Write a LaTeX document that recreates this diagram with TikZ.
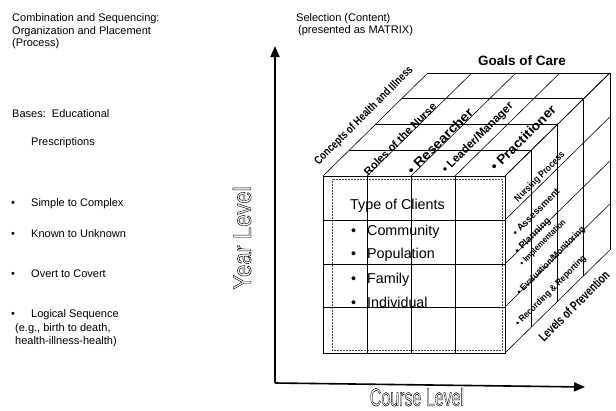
\documentclass[tikz,border=0pt]{standalone}
\usepackage{fontspec}
\setmainfont{Liberation Sans}
\usepackage{graphicx}
\usetikzlibrary{arrows.meta}
\newcommand{\sx}[2]{\scalebox{#1}[1]{#2}}
\newcommand{\fs}[1]{\fontsize{#1}{#1}\selectfont}
\newcommand{\outl}[1]{\special{pdf:literal direct 1 Tr 0.5 w}#1\special{pdf:literal direct 0 Tr}}
\begin{document}
\begin{tikzpicture}[x=1pt,y=-1pt,
  txt/.style={inner sep=0pt, anchor=base west, font=\fs{11}},
  cube/.style={line width=0.6pt},
  lab/.style={inner sep=0pt, rotate=45, anchor=center},
  axis/.style={line width=1.6pt, -{Triangle[length=11pt,width=9pt]}},
  bigl/.style={inner sep=0pt, font=\fs{25}}]
\useasboundingbox (0,0) rectangle (616,410);
% left texts
\node[txt] (t1) at (12,21) {Combination and Sequencing:};
\node[txt] (t2) at (12,34) {Organization and Placement};
\node[txt] (t3) at (12,46.5) {(Process)};
\node[txt] (b0) at (12,117) {Bases:\ \ Educational};
\node[txt] (b1) at (31,145) {Prescriptions};
\node[txt] (u1) at (11,206) {\textbullet};
\node[txt] (s1) at (31,206) {Simple to Complex};
\node[txt] (u2) at (11,237) {\textbullet};
\node[txt] (s2) at (31,237) {Known to Unknown};
\node[txt] (u3) at (11,277) {\textbullet};
\node[txt] (s3) at (31,277) {Overt to Covert};
\node[txt] (u4) at (11,317) {\textbullet};
\node[txt] (s4) at (31,317) {Logical Sequence};
\node[txt] (s5) at (15,331) {(e.g., birth to death,};
\node[txt] (s6) at (15,344.5) {health-illness-health)};
% selection
\node[txt] (sel1) at (296,21) {Selection (Content)};
\node[txt] (sel2) at (298,33.5) {(presented as MATRIX)};
\node[inner sep=0pt, anchor=base, font=\fs{13.5}\bfseries] (goals) at (522,65) {Goals of Care};
% axes
\coordinate (O) at (275,383);
\coordinate (Ytip) at (275,46);
\coordinate (Xtip) at (585,387);
\draw[axis] (O) -- (Ytip);
\draw[axis] (O) -- (Xtip);
% cube: top face
\foreach \k in {0,...,4}
  \draw[cube] ({323+\k*26.2},{176-\k*25.75}) -- ({505+\k*26.2},{176-\k*25.75});
\foreach \x in {323,367,411,455,505}
  \draw[cube] (\x,176) -- ++(104.8,-103);
% right face
\foreach \k in {1,...,4}
  \draw[cube] ({505+\k*26.2},{176-\k*25.75}) -- ++(0,177);
\foreach \y in {176,220,264,307,353}
  \draw[cube] (505,\y) -- ++(104.8,-103);
% front face
\draw[line width=0.8pt] (323,176) rectangle (505,353);
\draw[densely dotted, line width=0.5pt, black!70] (332,179) rectangle (502,350);
\foreach \y in {220,264,307}
  \draw[cube] (323,\y) -- (505,\y);
\foreach \x in {367,411,455}
  \draw[cube] (\x,176) -- (\x,353);
% front texts
\node[txt, font=\fs{14.3}] (toc) at (350,209) {Type of Clients};
\node[txt, font=\fs{14.3}] (c1b) at (351,235) {\textbullet};
\node[txt, font=\fs{14.3}] (c1) at (367,235) {Community};
\node[txt, font=\fs{14.3}] (c2b) at (351,258) {\textbullet};
\node[txt, font=\fs{14.3}] (c2) at (367,258) {Population};
\node[txt, font=\fs{14.3}] (c3b) at (351,283) {\textbullet};
\node[txt, font=\fs{14.3}] (c3) at (367,283) {Family};
\node[txt, font=\fs{14.3}] (c4b) at (351,307) {\textbullet};
\node[txt, font=\fs{14.3}] (c4) at (367,307) {Individual};
% top labels
\node[lab, font=\fs{11.5}\bfseries] (l1) at (364,116) {\sx{0.8}{Concepts of Health and Illness}};
\node[lab, font=\fs{11}\bfseries] (l2) at (400,139) {\sx{1.0}{Roles of the Nurse}};
\node[lab, font=\fs{13}\bfseries] (l3) at (440,141) {\sx{1.1}{\textbullet\ Researcher}};
\node[lab, font=\fs{11.5}\bfseries] (l4) at (478,138) {\sx{1.0}{\textbullet\ Leader/Manager}};
\node[lab, font=\fs{13}\bfseries] (l5) at (523,138) {\sx{1.08}{\textbullet\ Practitioner}};
% right labels
\node[lab, font=\fs{9.5}\bfseries] (r1) at (540,177) {\sx{0.88}{Nursing Process}};
\node[lab, font=\fs{9.5}\bfseries] (r2) at (536,212) {\sx{1.0}{\textbullet\ Assessment}};
\node[lab, font=\fs{9.5}\bfseries] (r3) at (533,236) {\sx{1.0}{\textbullet\ Planning}};
\node[lab, font=\fs{8.5}\bfseries] (r4) at (543,243) {\sx{0.9}{\textbullet\ Implementation}};
\node[lab, font=\fs{9}\bfseries] (r5) at (551,261) {\sx{0.92}{\textbullet\ Evaluation/Monitoring}};
\node[lab, font=\fs{9}\bfseries] (r6) at (551,291) {\sx{0.92}{\textbullet\ Recording \& Reporting}};
\node[lab, font=\fs{13}\bfseries] (r7) at (574,306) {\sx{0.74}{Levels of Prevention}};
% axis titles
\node[bigl, rotate=90] (yl) at (242,238) {\sx{0.88}{\outl{Year Level}}};
\node[bigl] (xl) at (417,397) {\sx{0.64}{\outl{Course Level}}};
\end{tikzpicture}
\end{document}
